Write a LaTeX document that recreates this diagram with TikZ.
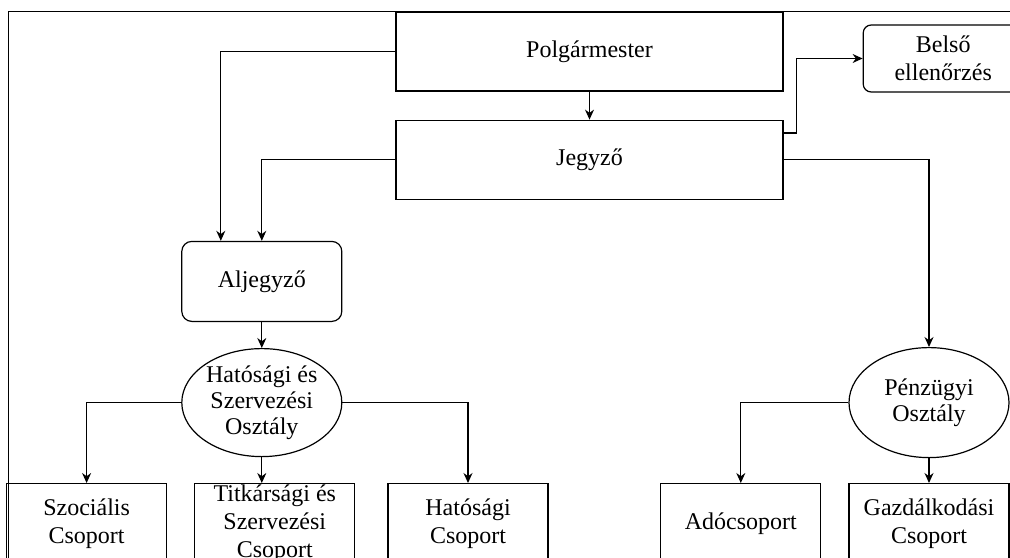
\documentclass[tikz,border=0pt]{standalone}
\usepackage{fontspec}
\setmainfont{Liberation Serif}
\usetikzlibrary{shapes, arrows.meta, positioning}

\begin{document}
\begin{tikzpicture}[
    x=0.5pt, y=-0.5pt,
    line width=0.6pt,
    font=\fontsize{12}{13.8}\selectfont,
    box/.style={rectangle, draw, align=center, minimum width=80pt, minimum height=40pt, inner sep=0pt},
    roundbox/.style={box, rounded corners=5pt},
    bigbox/.style={box, minimum width=193.5pt, minimum height=39.5pt},
    dept/.style={ellipse, draw, align=center, minimum width=80pt, minimum height=54pt, inner sep=0pt, font=\fontsize{12}{13}\selectfont},
    arrow/.style={-{Stealth[length=5pt, width=4.5pt]}}
]
\useasboundingbox (0,0) rectangle (1010,557);

% Page frame
\draw (8.7,570) -- (8.7,11.7) -- (1030,11.7);

% Leadership
\node[bigbox] (polg) at (589.5,51.5) {Polgármester};

\node[bigbox, below=14pt of polg] (jegyzo) {Jegyző};

\node[roundbox, minimum height=33.5pt, rounded corners=4pt, right=39.5pt of polg, yshift=-3.5pt] (belso) {Belső\\ellenőrzés};

\node[roundbox, below left=20.5pt and 26.5pt of jegyzo] (aljegyzo) {Aljegyző};

% Hatósági és Szervezési Osztály
\node[dept, below=13pt of aljegyzo] (hatosagi) {Hatósági és\\Szervezési\\Osztály};

\node[box, below=80.5pt of aljegyzo, xshift=6.5pt] (titkarsagi) {Titkársági és\\Szervezési\\Csoport};

\node[box, left=13.5pt of titkarsagi] (szocialis) {Szociális\\Csoport};

\node[box, right=16pt of titkarsagi] (hatcsop) {Hatósági\\Csoport};

% Pénzügyi Osztály
\node[dept, minimum height=55pt, right=253pt of hatosagi] (penzugyi) {Pénzügyi\\Osztály};

\node[box, right=253pt of titkarsagi, xshift=-6.5pt] (gazd) {Gazdálkodási\\Csoport};

\node[box, left=13.5pt of gazd] (ado) {Adócsoport};

% Arrows
\draw[arrow] (polg) -- (jegyzo);
\draw[arrow] (polg.west) -| ([xshift=-20.5pt]aljegyzo.north);
\draw[arrow] (jegyzo.west) -| (aljegyzo.north);
\draw[arrow] ([yshift=13.4pt]jegyzo.east) -- ++(6.5pt,0) |- (belso.west);
\draw[arrow] (jegyzo.east) -| (penzugyi.north);
\draw[arrow] (aljegyzo) -- (hatosagi);
\draw[arrow] (hatosagi.west) -| (szocialis.north);
\draw[arrow] (hatosagi.south) -- (hatosagi.south |- titkarsagi.north);
\draw[arrow] (hatosagi.east) -| (hatcsop.north);
\draw[arrow] (penzugyi.west) -| (ado.north);
\draw[arrow] (penzugyi.south) -- (penzugyi.south |- gazd.north);

\end{tikzpicture}
\end{document}
